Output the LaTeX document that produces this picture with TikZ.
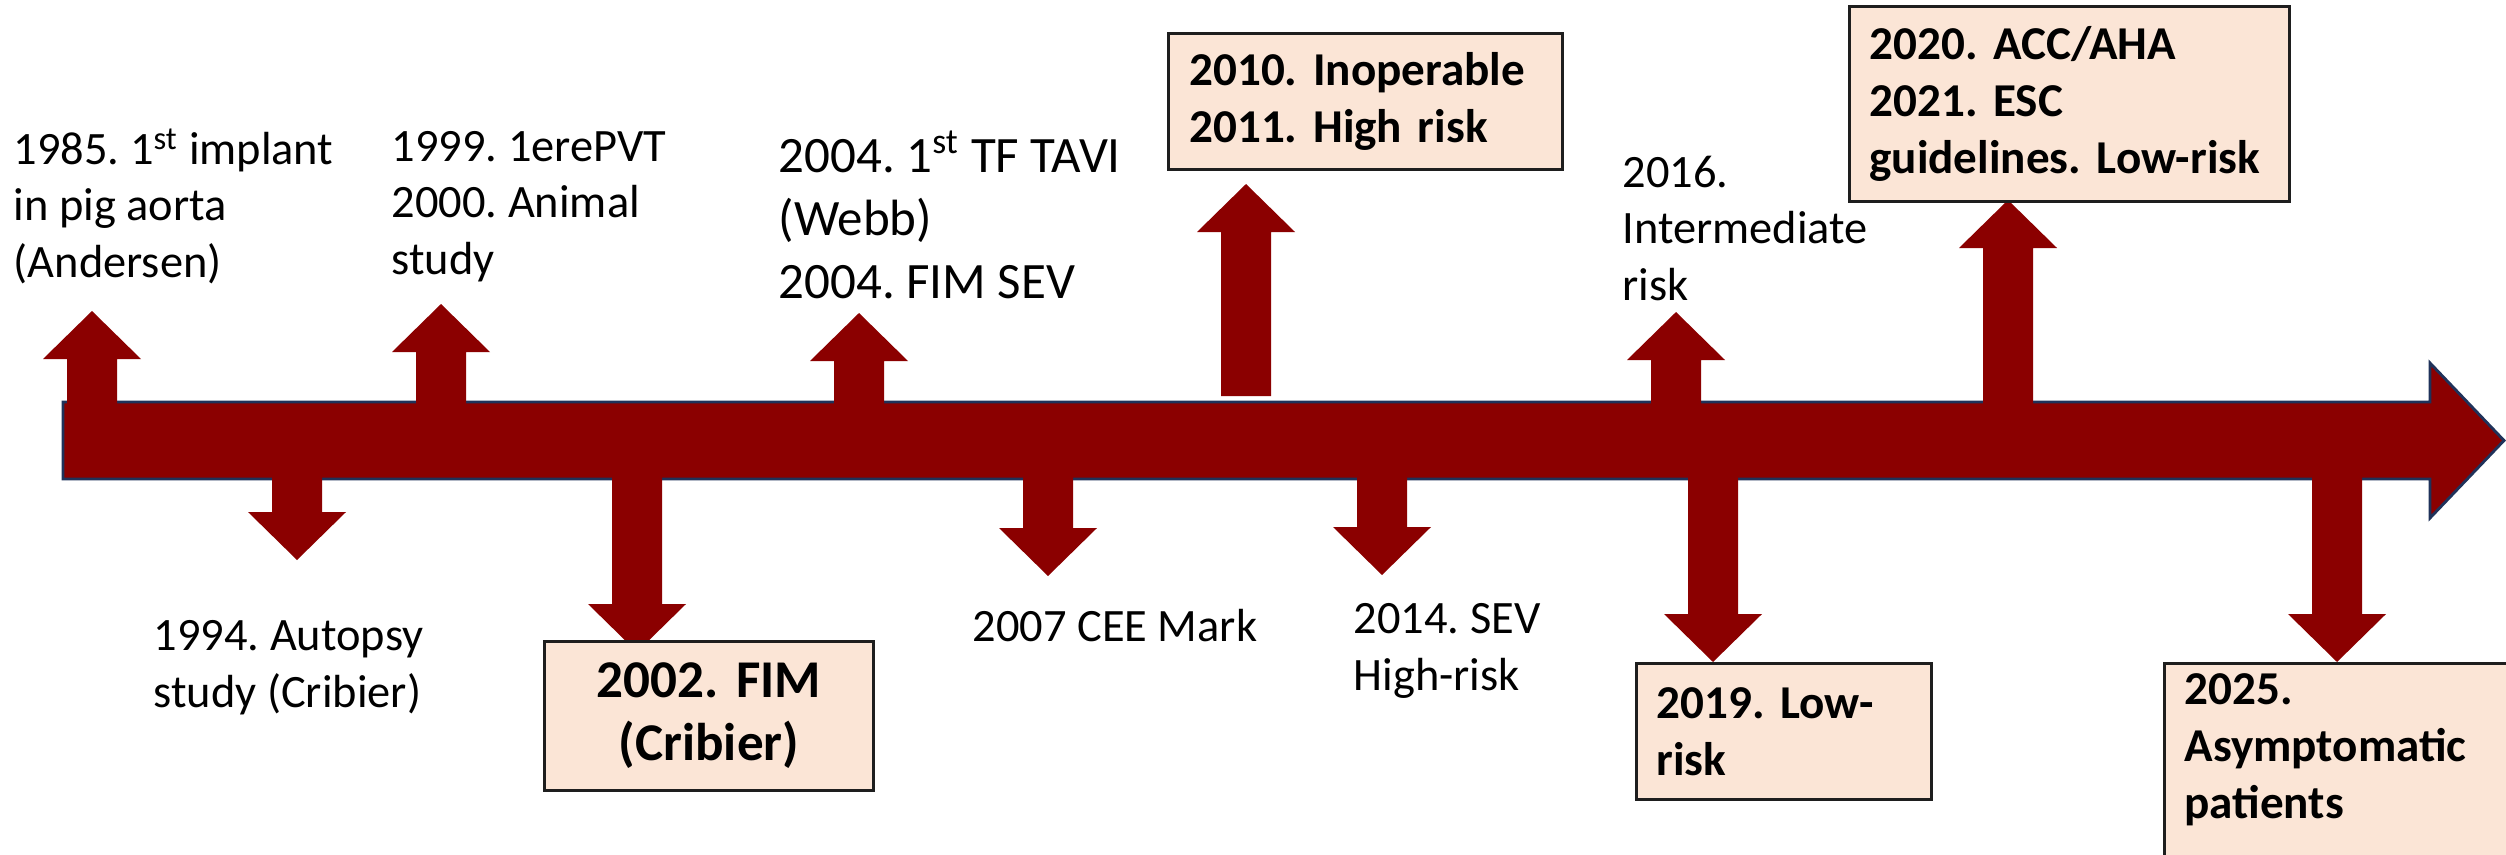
\documentclass[tikz,border=0pt]{standalone}
\usepackage{fontspec}
\setmainfont{Carlito}
\usepackage{xcolor}
\usepackage{tikz}
\usetikzlibrary{positioning,calc}
\frenchspacing

\definecolor{tavired}{RGB}{139,0,0}
\definecolor{barline}{RGB}{31,50,90}
\definecolor{boxfill}{RGB}{251,229,214}
\definecolor{boxline}{RGB}{30,30,30}

\tikzset{
  tick/.style={fill=tavired},
  bar/.style={fill=tavired, draw=barline, line width=0.8pt},
  lbl/.style={anchor=base west, inner sep=0pt, align=left, font=\fontsize{13.2}{16}\selectfont},
  evbox/.style={draw=boxline, fill=boxfill, line width=0.8pt, anchor=north west, align=left,
    inner xsep=0.21cm, inner ysep=0pt, font=\fontsize{13.4}{16.2}\selectfont\bfseries}
}

\begin{document}
\begin{tikzpicture}[x = 0.01cm, y = -0.01cm]
  \useasboundingbox (0,0) rectangle (2506,854);
  % time line
  \filldraw[bar] (63,402) -- (2430,402) -- (2430,363) -- (2504,440.5) -- (2430,518) -- (2430,479) -- (63,479) -- cycle;
  % ticks: centre / foot / tip
  \foreach \xc/\yf/\yt in {92/410/311, 441/405/304, 859/410/313, 1246/396/184, 1676/410/312, 2008/410/200,
                           297/470/560, 637/470/652, 1048/470/576, 1382/470/575, 1713/470/662, 2337/470/662} {
    \pgfmathsetmacro{\yb}{\yt + 48*sign(\yf-\yt)}
    \fill[tick] (\xc-25,\yf) -- (\xc-25,\yb) -- (\xc-49,\yb) -- (\xc,\yt) -- (\xc+49,\yb) -- (\xc+25,\yb) -- (\xc+25,\yf) -- cycle;
  }
  % labels above (placed by the baseline of their last line)
  \node[lbl] (t1985) at (13,277) {1985. 1\textsuperscript{st} implant\\in pig aorta\\(Andersen)};
  \node[lbl] (t1999) at (391,274) {1999. 1erePVT\\2000. Animal\\study};
  \node[lbl, font=\fontsize{14.5}{17.9}\selectfont] (t2004) at (778,298) {2004. 1\textsuperscript{st} TF TAVI\\(Webb)\\2004. FIM SEV};
  \node[lbl] (t2016) at (1622,300) {2016.\\Intermediate\\risk};
  % labels below
  \node[lbl] (t1994) at (153,707) {1994. Autopsy\\study (Cribier)};
  \node[lbl] (t2007) at (972,641) {2007 CEE Mark};
  \node[lbl] (t2014) at (1353,690) {2014. SEV\\High-risk};
  % boxes
  \node[evbox, align=center, text width=2.87cm, minimum height=1.49cm, font=\fontsize{15.1}{17.9}\selectfont\bfseries] (b2002) at (543,640) {2002. FIM\\(Cribier)};
  \node[evbox, text width=3.52cm, minimum height=1.36cm] (b2010) at (1167,32) {2010. Inoperable\\2011. High risk};
  \node[evbox, inner xsep=0.2cm, text width=4.0cm, minimum height=1.95cm] (b2020) at (1848,5) {2020. ACC/AHA\\2021. ESC\\\mbox{guidelines. Low-risk}};
  \node[evbox, inner xsep=0.2cm, text width=2.55cm, minimum height=1.36cm] (b2019) at (1635,662) {2019. Low-\\risk};
  \node[evbox, inner xsep=0.2cm, inner ysep=0.1cm, text width=3.6cm] (b2025) at (2163,662) {2025.\\Asymptomatic\\patients\rule[-1.2cm]{0pt}{0pt}};
\end{tikzpicture}
\end{document}
